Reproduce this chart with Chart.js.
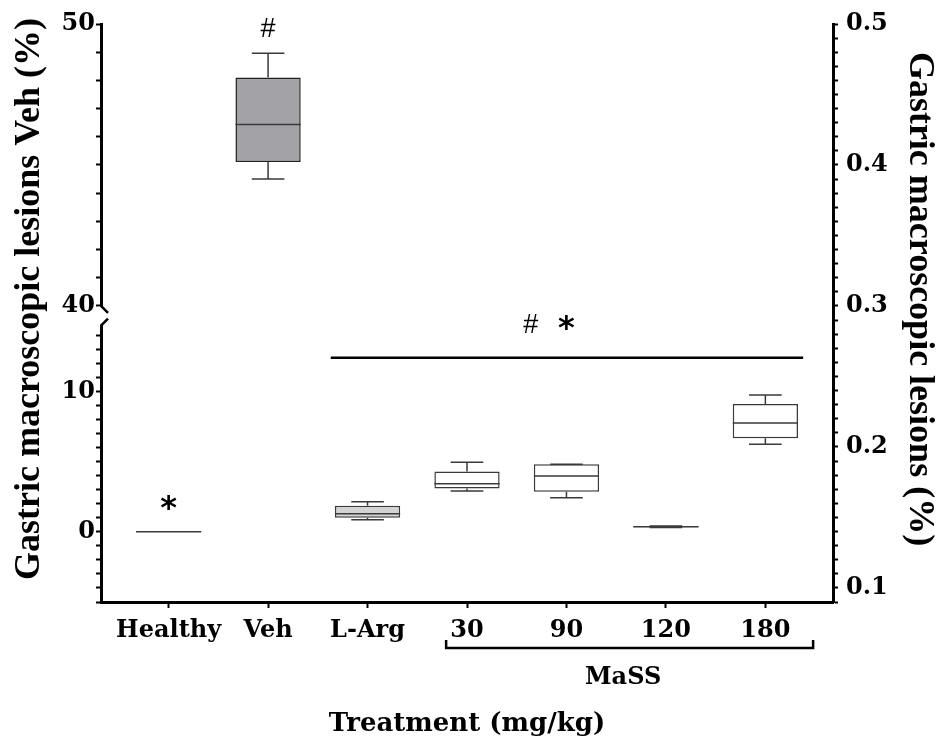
<!DOCTYPE html>
<html>
<head>
<meta charset="utf-8">
<script src="https://cdn.jsdelivr.net/npm/chart.js@4.4.0/dist/chart.umd.min.js"></script>
<style>
  html, body { margin: 0; padding: 0; background: #fff; }
</style>
</head>
<body>
<canvas id="grafico" width="945" height="751"></canvas>
<script>
    // grupos e valores (caixa: min, q1, mediana, q3, max)
    const grupos = ['Healthy', 'Veh', 'L-Arg', '30', '90', '120', '180'];
    const minimo  = [0, 44.50, 0.86, 2.91, 2.43, 0.30, 6.24];
    const q1      = [0, 45.10, 1.00, 3.09, 2.86, 0.32, 6.66];
    const mediana = [0, 46.43, 1.29, 3.42, 3.98, 0.36, 7.76];
    const q3      = [0, 48.10, 1.86, 4.29, 4.82, 0.40, 9.11];
    const maximo  = [0, 48.96, 2.14, 4.96, 4.82, 0.42, 9.74];
    const rotulosEsq = [0, 10, 40, 50];
    const rotulosDir = [0.1, 0.2, 0.3, 0.4, 0.5];

    const cores = ['#ffffff', '#a3a2a6', '#d4d4d4', '#ffffff', '#ffffff', '#ffffff', '#ffffff'];
    const noAlto = i => mediana[i] >= 40;

    const caixasBaixo = grupos.map((g, i) => ({ x: i, y: [q1[i], q3[i]] })).filter(p => !noAlto(p.x));
    const caixasAlto = grupos.map((g, i) => ({ x: i, y: [q1[i], q3[i]] })).filter(p => noAlto(p.x));

    Chart.defaults.font.family = '"DejaVu Serif"';
    Chart.defaults.font.weight = 'bold';
    Chart.defaults.font.size = 24;
    Chart.defaults.color = '#000';

    const eixoY = (extra) => Object.assign({
      type: 'linear',
      position: 'left',
      stack: 'esq',
      border: { display: true, color: '#000', width: 3 },
      grid: { drawOnChartArea: false, drawTicks: true, tickLength: 5, tickWidth: 2, color: '#000' },
      ticks: {
        stepSize: 1, autoSkip: false, includeBounds: false, padding: 1,
        callback: v => rotulosEsq.includes(v) ? String(v) : ''
      },
      afterFit: s => { s.width = 101; }
    }, extra);

    function desenhaTexto(ctx, txt, x, y, fonte, ang) {
      ctx.save();
      ctx.translate(x, y);
      if (ang) ctx.rotate(ang);
      ctx.font = fonte;
      ctx.fillStyle = '#000';
      ctx.textAlign = 'center';
      ctx.textBaseline = 'middle';
      ctx.fillText(txt, 0, 0);
      ctx.restore();
    }

    const boxplot = {
      id: 'boxplot',
      afterDatasetsDraw(chart) {
        const { ctx, scales } = chart;
        const largura = chart.getDatasetMeta(0).data[0].width;
        ctx.save();
        ctx.strokeStyle = '#3a3a3a';
        ctx.lineWidth = 1.5;
        grupos.forEach((g, i) => {
          const y = scales[noAlto(i) ? 'yAlto' : 'yBaixo'];
          const cx = scales.x.getPixelForValue(i);
          const cap = largura / 4;
          ctx.beginPath();
          // bigodes
          ctx.moveTo(cx, y.getPixelForValue(q3[i]));
          ctx.lineTo(cx, y.getPixelForValue(maximo[i]));
          ctx.moveTo(cx - cap, y.getPixelForValue(maximo[i]));
          ctx.lineTo(cx + cap, y.getPixelForValue(maximo[i]));
          ctx.moveTo(cx, y.getPixelForValue(q1[i]));
          ctx.lineTo(cx, y.getPixelForValue(minimo[i]));
          ctx.moveTo(cx - cap, y.getPixelForValue(minimo[i]));
          ctx.lineTo(cx + cap, y.getPixelForValue(minimo[i]));
          // mediana
          ctx.moveTo(cx - largura / 2, y.getPixelForValue(mediana[i]));
          ctx.lineTo(cx + largura / 2, y.getPixelForValue(mediana[i]));
          ctx.stroke();
        });
        ctx.restore();
      },
      afterDraw(chart) {
        const { ctx, scales, chartArea } = chart;
        const x = scales.x, yB = scales.yBaixo, yA = scales.yAlto;
        const ax = chartArea.left;

        // quebra do eixo
        const yTopo = yA.getPixelForValue(40) + 1;
        const yFim = yB.top + 2;
        ctx.save();
        ctx.fillStyle = '#fff';
        ctx.fillRect(ax - 3, yTopo, 7, yFim - yTopo);
        ctx.strokeStyle = '#000';
        ctx.lineWidth = 2.5;
        ctx.beginPath();
        ctx.moveTo(ax, yTopo - 1);
        ctx.lineTo(ax + 7, yTopo + 6);
        ctx.moveTo(ax + 7, yFim - 6);
        ctx.lineTo(ax, yFim + 1);
        ctx.stroke();

        // linha de significância
        ctx.lineWidth = 2.5;
        ctx.beginPath();
        ctx.moveTo(x.getPixelForValue(1.63), yB.getPixelForValue(12.4));
        ctx.lineTo(x.getPixelForValue(6.38), yB.getPixelForValue(12.4));
        ctx.stroke();

        // chave MaSS
        const yCh = chartArea.bottom + 46;
        ctx.lineWidth = 2.5;
        ctx.beginPath();
        ctx.moveTo(x.getPixelForValue(2.79), yCh - 8);
        ctx.lineTo(x.getPixelForValue(2.79), yCh);
        ctx.lineTo(x.getPixelForValue(6.48), yCh);
        ctx.lineTo(x.getPixelForValue(6.48), yCh - 8);
        ctx.stroke();
        ctx.restore();

        desenhaTexto(ctx, 'MaSS', x.getPixelForValue(4.57), chartArea.bottom + 76, 'bold 24px "DejaVu Serif"');
        desenhaTexto(ctx, '#', x.getPixelForValue(1), yA.getPixelForValue(49.8), '27px "Liberation Sans"');
        desenhaTexto(ctx, '*', x.getPixelForValue(0), yB.getPixelForValue(1.6), 'bold 32px "DejaVu Sans"');
        desenhaTexto(ctx, '#', x.getPixelForValue(3.64), yB.getPixelForValue(14.7), '27px "Liberation Sans"');
        desenhaTexto(ctx, '*', x.getPixelForValue(4.0), yB.getPixelForValue(14.4), 'bold 32px "DejaVu Sans"');

        // títulos
        desenhaTexto(ctx, 'Gastric macroscopic lesions Veh (%)', 30, 299, 'bold 36px "Liberation Serif"', -Math.PI / 2);
        desenhaTexto(ctx, 'Gastric macroscopic lesions (%)', 919, 299, 'bold 36px "Liberation Serif"', Math.PI / 2);
        desenhaTexto(ctx, 'Treatment (mg/kg)', (chartArea.left + chartArea.right) / 2, 724, 'bold 26px "DejaVu Serif"');
      }
    };

    const ctx = document.getElementById('grafico').getContext('2d');
    const grafico = new Chart(ctx, {
      type: 'bar',
      data: {
        datasets: [{
          label: 'baixo',
          data: caixasBaixo,
          xAxisID: 'x',
          yAxisID: 'yBaixo',
          backgroundColor: c => cores[c.raw.x],
          borderColor: '#3a3a3a',
          borderWidth: 1.5,
          borderSkipped: false,
          grouped: false,
          barPercentage: 0.82,
          categoryPercentage: 0.8
        }, {
          label: 'alto',
          data: caixasAlto,
          xAxisID: 'x',
          yAxisID: 'yAlto',
          backgroundColor: c => cores[c.raw.x],
          borderColor: '#222',
          borderWidth: 1.5,
          borderSkipped: false,
          grouped: false,
          barPercentage: 0.82,
          categoryPercentage: 0.8
        }]
      },
      options: {
        responsive: false,
        animation: false,
        devicePixelRatio: 1,
        layout: { padding: { top: 24, left: 0, right: 0, bottom: 0 } },
        plugins: { legend: { display: false }, tooltip: { enabled: false } },
        scales: {
          x: {
            type: 'linear',
            position: 'bottom',
            min: -0.68,
            max: 6.68,
            offset: false,
            border: { display: true, color: '#000', width: 3 },
            grid: { offset: false, drawOnChartArea: false, drawTicks: true, tickLength: 6, tickWidth: 2, color: '#000' },
            ticks: {
              stepSize: 1, includeBounds: false, autoSkip: false, maxRotation: 0, padding: 8,
              callback: v => grupos[v] ?? ''
            },
            afterFit: s => { s.height = 149; }
          },
          yBaixo: eixoY({ min: -5, max: 14.9, stackWeight: 278.6 }),
          yAlto: eixoY({ min: 39.4, max: 50, stackWeight: 297.9 }),
          y2: {
            type: 'linear',
            position: 'right',
            min: 0.09,
            max: 0.5,
            border: { display: true, color: '#000', width: 3 },
            grid: { drawOnChartArea: false, drawTicks: true, tickLength: 5, tickWidth: 2, color: '#000' },
            ticks: {
              stepSize: 0.01, autoSkip: false, includeBounds: false, padding: 8,
              callback: v => rotulosDir.some(r => Math.abs(r - v) < 1e-6) ? v.toFixed(1) : ''
            },
            afterFit: s => { s.width = 112; }
          }
        }
      },
      plugins: [boxplot]
    });
</script>
</body>
</html>
